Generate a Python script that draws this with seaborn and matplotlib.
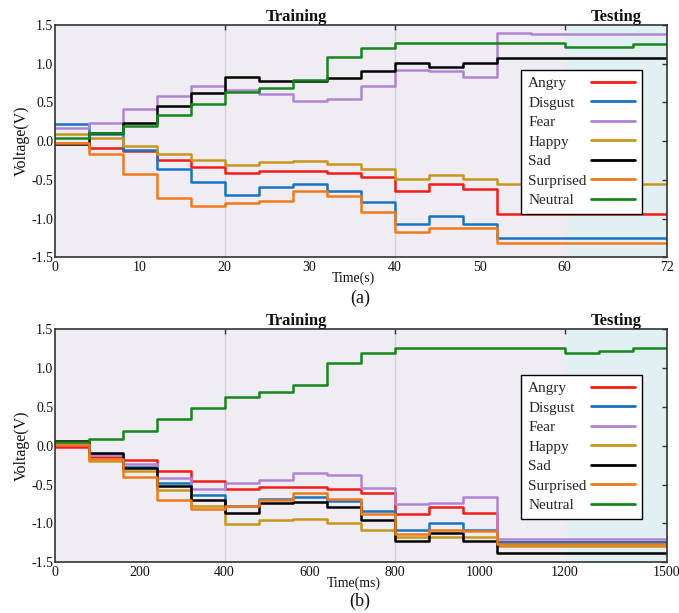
import numpy as np
import pandas as pd
import matplotlib
matplotlib.use("Agg")
import matplotlib.pyplot as plt
import seaborn as sns

# ---------------- data ----------------
emotions = ["Angry", "Disgust", "Fear", "Happy", "Sad", "Surprised", "Neutral"]
colors = ["#f41c16", "#1874c2", "#b184d2", "#c8961a", "#000000", "#ef7a1c", "#17861c"]

# panel (a): step start times (s) and end
time_a = [0, 4, 8, 12, 16, 20, 24, 28, 32, 36, 40, 44, 48, 52, 56, 60, 64, 68]
end_a = 72
angry_a = [-0.03, -0.09, -0.13, -0.24, -0.33, -0.41, -0.39, -0.38, -0.41, -0.46, -0.64, -0.56, -0.62, -0.94, -0.94, -0.94, -0.94, -0.94]
disgust_a = [0.22, 0.09, -0.12, -0.36, -0.53, -0.70, -0.59, -0.56, -0.64, -0.78, -1.07, -0.97, -1.07, -1.25, -1.25, -1.25, -1.25, -1.25]
fear_a = [0.17, 0.24, 0.41, 0.58, 0.71, 0.66, 0.61, 0.52, 0.55, 0.71, 0.92, 0.90, 0.83, 1.39, 1.38, 1.38, 1.38, 1.38]
happy_a = [0.09, 0.04, -0.06, -0.16, -0.25, -0.31, -0.27, -0.26, -0.29, -0.36, -0.49, -0.44, -0.49, -0.56, -0.56, -0.56, -0.56, -0.56]
sad_a = [-0.04, 0.11, 0.23, 0.45, 0.62, 0.83, 0.78, 0.77, 0.82, 0.90, 1.01, 0.96, 1.01, 1.07, 1.07, 1.07, 1.07, 1.07]
surprised_a = [-0.02, -0.16, -0.43, -0.74, -0.84, -0.80, -0.77, -0.64, -0.71, -0.92, -1.17, -1.12, -1.12, -1.32, -1.32, -1.32, -1.32, -1.32]
neutral_a = [0.04, 0.10, 0.20, 0.34, 0.48, 0.63, 0.69, 0.79, 1.08, 1.20, 1.27, 1.27, 1.27, 1.27, 1.27, 1.21, 1.22, 1.26]

# panel (b): step start times (ms) and end
time_b = [0, 80, 160, 240, 320, 400, 480, 560, 640, 720, 800, 880, 960, 1040, 1120, 1200, 1300, 1400]
end_b = 1500
angry_b = [-0.01, -0.15, -0.18, -0.33, -0.45, -0.56, -0.53, -0.53, -0.56, -0.61, -0.88, -0.79, -0.86, -1.24, -1.24, -1.24, -1.24, -1.24]
disgust_b = [0.04, -0.11, -0.27, -0.48, -0.63, -0.78, -0.68, -0.66, -0.71, -0.84, -1.08, -1.00, -1.08, -1.24, -1.24, -1.24, -1.24, -1.24]
fear_b = [0.03, -0.12, -0.24, -0.41, -0.55, -0.48, -0.44, -0.35, -0.38, -0.54, -0.75, -0.73, -0.66, -1.20, -1.20, -1.20, -1.20, -1.20]
happy_b = [0.03, -0.19, -0.33, -0.57, -0.78, -1.01, -0.95, -0.94, -1.00, -1.09, -1.18, -1.17, -1.17, -1.29, -1.29, -1.29, -1.29, -1.29]
sad_b = [0.06, -0.09, -0.28, -0.52, -0.70, -0.86, -0.74, -0.72, -0.79, -0.95, -1.22, -1.12, -1.22, -1.38, -1.38, -1.38, -1.38, -1.38]
surprised_b = [0.02, -0.17, -0.40, -0.70, -0.81, -0.78, -0.70, -0.61, -0.68, -0.88, -1.13, -1.08, -1.10, -1.27, -1.27, -1.27, -1.27, -1.27]
neutral_b = [0.05, 0.09, 0.19, 0.34, 0.49, 0.63, 0.69, 0.78, 1.07, 1.20, 1.26, 1.26, 1.26, 1.26, 1.26, 1.20, 1.22, 1.26]

xticks_a = [0, 10, 20, 30, 40, 50, 60, 72]
xticks_b = [0, 200, 400, 600, 800, 1000, 1200, 1500]
yticks = [-1.5, -1.0, -0.5, 0.0, 0.5, 1.0, 1.5]


def long_df(times, end, series):
    rows = []
    for emo, vals in zip(emotions, series):
        ts = list(times) + [end]
        vs = list(vals) + [vals[-1]]
        for t, v in zip(ts, vs):
            rows.append((emo, t, v))
    return pd.DataFrame(rows, columns=["emotion", "t", "v"])


df_a = long_df(time_a, end_a, [angry_a, disgust_a, fear_a, happy_a, sad_a, surprised_a, neutral_a])
df_b = long_df(time_b, end_b, [angry_b, disgust_b, fear_b, happy_b, sad_b, surprised_b, neutral_b])

# ---------------- style ----------------
sns.set_theme(style="white")
plt.rcParams["font.family"] = ["Liberation Serif", "DejaVu Serif"]
plt.rcParams["axes.unicode_minus"] = False

fig = plt.figure(figsize=(6.79, 6.13), dpi=100)
ax_a = fig.add_axes([0.0803, 0.5803, 0.9016, 0.379])
ax_b = fig.add_axes([0.0803, 0.0827, 0.9016, 0.380])


def fwd_b(x):
    x = np.asarray(x, dtype=float)
    return np.where(x <= 1200, x / 20.0, 60.0 + (x - 1200.0) / 25.0)


def inv_b(u):
    u = np.asarray(u, dtype=float)
    return np.where(u <= 60, u * 20.0, 1200.0 + (u - 60.0) * 25.0)


panels = [
    (ax_a, df_a, end_a, xticks_a, [20, 40], [20, 40, 60], 60, "Time(s)", "(a)", 0.499, None),
    (ax_b, df_b, end_b, xticks_b, [400, 800], [400, 800, 1200], 1200, "Time(ms)", "(b)", 0.005, (fwd_b, inv_b)),
]

legends = []
for ax, df, end, xt, vlines, topt, test_start, xlab, tag, tag_y, funcs in panels:
    if funcs is not None:
        ax.set_xscale("function", functions=funcs)
    ax.set_facecolor("#efedf3")
    ax.axvspan(test_start, end, color="#e2f0f4", zorder=0, lw=0)
    for v in vlines:
        ax.axvline(v, color="#d2d2d8", lw=1.0, zorder=0.5)

    sns.lineplot(data=df, x="t", y="v", hue="emotion", hue_order=emotions,
                 palette=colors, drawstyle="steps-post", estimator=None,
                 lw=1.8, ax=ax)

    ax.set_xlim(0, end)
    ax.set_ylim(-1.5, 1.5)
    ax.set_xticks(xt)
    ax.set_xticklabels([str(v) for v in xt])
    ax.set_yticks(yticks)
    ax.set_yticklabels([f"{v:.1f}" for v in yticks])
    ax.tick_params(axis="x", bottom=False, top=False, length=0, pad=3, labelsize=10, colors="#111111")
    ax.tick_params(axis="y", left=False, right=True, direction="in", length=3.6,
                   width=1.0, color="#333333", labelleft=True, labelright=False,
                   pad=1, labelsize=10, labelcolor="#111111")
    for s in ax.spines.values():
        s.set_color("#333333")
        s.set_linewidth(1.2)
        s.set_visible(True)

    ax.set_xlabel(xlab, fontsize=10, color="#111111")
    ax.xaxis.set_label_coords(0.489, -0.062)
    ax.set_ylabel("Voltage(V)", fontsize=11.5, color="#111111")
    ax.yaxis.set_label_coords(-0.040, 0.5)

    # top ticks only at selected positions
    tw = ax.twiny()
    if funcs is not None:
        tw.set_xscale("function", functions=funcs)
    tw.set_xlim(0, end)
    tw.set_xticks(topt)
    tw.tick_params(axis="x", top=True, bottom=False, direction="in", length=3.6,
                   width=1.0, color="#333333", labeltop=False)
    tw.spines[:].set_visible(False)
    tw.grid(False)

    ax.text(0.3945, 1.018, "Training", transform=ax.transAxes, ha="center", va="baseline",
            fontsize=12, fontweight="bold", color="#111111")
    ax.text(0.917, 1.018, "Testing", transform=ax.transAxes, ha="center", va="baseline",
            fontsize=12, fontweight="bold", color="#111111")

    sns.move_legend(ax, "lower right", bbox_to_anchor=(0.96, 0.186), title=None,
                    markerfirst=False, frameon=True, fancybox=False, edgecolor="black",
                    framealpha=1, facecolor="white", fontsize=11, handlelength=2.9,
                    handletextpad=0.3, labelspacing=0.38, borderpad=0.45, borderaxespad=0)
    leg = ax.get_legend()
    leg.get_frame().set_linewidth(1.0)
    for h in leg.legend_handles:
        h.set_linewidth(2.0)
    leg.set_zorder(10)
    legends.append(leg)

    fig.text(0.530, tag_y, tag, ha="center", va="bottom", fontsize=13, color="#111111")

# left-align legend texts, keep handles in a right-aligned column
fig.canvas.draw()
renderer = fig.canvas.get_renderer()
for leg in legends:
    cols = leg._legend_handle_box.get_children()
    for col in cols:
        items = col.get_children()
        wmax = max(it.get_bbox(renderer).width for it in items)
        for it in items:
            it.mode = "expand"
            it.width = wmax
        col.align = "left"

fig.savefig("out.png", dpi=100)
